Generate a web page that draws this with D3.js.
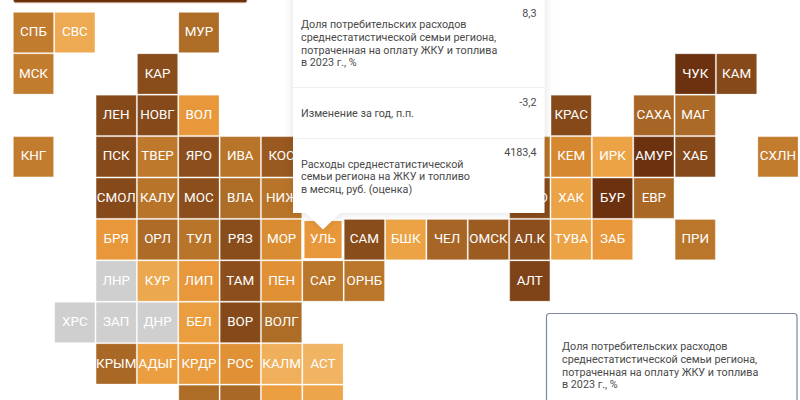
<!DOCTYPE html>
<html><head><meta charset="utf-8">
<script src="https://cdn.jsdelivr.net/npm/d3@7"></script>
<style>html,body{margin:0;padding:0;background:#fff;overflow:hidden}svg{display:block}text{font-family:Roboto,sans-serif}</style>
</head><body>
<svg id="c" width="800" height="400"></svg>
<script>
const regions=["СПБ","СВС","МУР","МСК","КАР","ЛЕН","НОВГ","ВОЛ","КРАС","САХА","МАГ","ЧУК","КАМ","КНГ","ПСК","ТВЕР","ЯРО","ИВА","КОС","","КЕМ","ИРК","АМУР","ХАБ","СХЛН","СМОЛ","КАЛУ","МОС","ВЛА","НИЖ","НОВО","ХАК","БУР","ЕВР","БРЯ","ОРЛ","ТУЛ","РЯЗ","МОР","УЛЬ","САМ","БШК","ЧЕЛ","ОМСК","АЛ.К","ТУВА","ЗАБ","ПРИ","ЛНР","КУР","ЛИП","ТАМ","ПЕН","САР","ОРНБ","АЛТ","ХРС","ЗАП","ДНР","БЕЛ","ВОР","ВОЛГ","КРЫМ","АДЫГ","КРДР","РОС","КАЛМ","АСТ","КЧР","СТАВ","ЧЕЧ","ДАГ"];
const cols=[0,1,4,0,3,2,3,4,13,15,16,16,17,0,2,3,4,5,6,12,13,14,15,16,18,2,3,4,5,6,12,13,14,15,2,3,4,5,6,7,8,9,10,11,12,13,14,16,2,3,4,5,6,7,8,12,1,2,3,4,5,6,2,3,4,5,6,7,4,5,6,7];
const rows=[0,0,0,1,1,2,2,2,2,2,2,1,1,3,3,3,3,3,3,3,3,3,3,3,3,4,4,4,4,4,4,4,4,4,5,5,5,5,5,5,5,5,5,5,5,5,5,5,6,6,6,6,6,6,6,6,7,7,7,7,7,7,8,8,8,8,8,8,9,9,9,9];
const shares=[10,7.4,11,10,13.5,14,14,8.3,14,11.4,11.2,16,14,10,13.8,10.2,13.2,10.5,12.4,10.5,9.2,7.7,16,14,10,14,10.5,13.2,11,10.5,13.5,7.7,16,11.3,8.3,11.1,10.5,13.5,9,8.3,13.5,7.7,11.4,12.2,13.2,7.7,8.3,10.4,null,7.5,8.3,13.2,8.7,10.4,10.4,14.5,null,null,null,8,14,11,11.3,8,8.2,8.7,7.2,7,11,11.3,8,7.6];
const colorStops=[7,7.7,8.3,9.2,10,10.5,11,11.4,12.2,13.2,14,16];
const colorValues=["#f0b463","#eba346","#e8983a","#d68830","#c27c2e","#b87429","#ae6d27","#a86626","#9c5c21","#8c4e1c","#85491a","#6c3210"];
const noData="#cfcfcf";
const tipRows=["Доля потребительских расходов|среднестатистической семьи региона,|потраченная на оплату ЖКУ и топлива|в 2023 г., %","Изменение за год, п.п.","Расходы среднестатистической|семьи региона на ЖКУ и топливо|в месяц, руб. (оценка)"];
const tipValues=["8,3","-3,2","4183,4"];
const activeRegion="УЛЬ";

const svg=d3.select("#c");
const x=d3.scaleBand().domain(d3.range(19)).range([12.8,12.8+19*41.36]).paddingInner(0.03).paddingOuter(0.015);
const y=d3.scaleBand().domain(d3.range(10)).range([11.8,11.8+10*41.42]).paddingInner(0.03).paddingOuter(0.015);
const color=d3.scaleLinear().domain(colorStops).range(colorValues).clamp(true);
const tiles=regions.map((name,i)=>({name,col:cols[i],row:rows[i],v:shares[i]}));

const defs=svg.append("defs");
const f=defs.append("filter").attr("id","sh").attr("x","-10%").attr("y","-10%").attr("width","120%").attr("height","120%");
f.append("feDropShadow").attr("dx",0).attr("dy",0).attr("stdDeviation",5).attr("flood-color","#000").attr("flood-opacity",.13);

svg.append("rect").attr("x",13.5).attr("y",-20).attr("width",233.5).attr("height",22.8).attr("rx",2)
  .attr("fill",color(16)).attr("stroke","#d9c3ad").attr("stroke-width",.8);

const g=svg.selectAll("g.t").data(tiles).join("g").attr("class","t")
  .attr("transform",d=>`translate(${x(d.col)},${y(d.row)})`);
g.append("rect").attr("width",x.bandwidth()).attr("height",y.bandwidth())
  .attr("fill",d=>d.v==null?noData:color(d.v))
  .attr("stroke",d=>d.name===activeRegion?"#fff":"rgba(255,255,255,.22)")
  .attr("stroke-width",d=>d.name===activeRegion?3:1);
g.filter(d=>d.name).append("text").attr("x",x.bandwidth()/2).attr("y",y.bandwidth()/2+3.7).attr("text-anchor","middle")
  .attr("fill","#fff").attr("font-size",13.4).text(d=>d.name);

// tooltip
const tip=svg.append("g");
const tx=293,tr=544.5,tb=213;
const ax=x(cols[regions.indexOf(activeRegion)])+x.bandwidth()/2;
tip.append("path").attr("d",`M${tx},-20H${tr}V${tb}H${ax+17}L${ax},${tb+16.5}L${ax-17},${tb}H${tx}Z`)
  .attr("fill","#fff").attr("filter","url(#sh)");
const labelY=[28,117,167.5], valueY=[16.7,105.7,156];
[87.5,138.5].forEach(v=>tip.append("line").attr("x1",tx).attr("x2",tr).attr("y1",v).attr("y2",v).attr("stroke","#efefef"));
tipRows.forEach((t,i)=>{
  t.split("|").forEach((line,k)=>tip.append("text").attr("x",301).attr("y",labelY[i]+k*12.75)
    .attr("font-size",10.75).attr("fill","#4a4a4a").text(line));
  tip.append("text").attr("x",536.5).attr("y",valueY[i]).attr("text-anchor","end")
    .attr("font-size",10.75).attr("fill","#4a4a4a").text(tipValues[i]);
});

// legend box
svg.append("rect").attr("x",546.5).attr("y",313.5).attr("width",250.5).attr("height",120).attr("rx",3)
  .attr("fill","#fff").attr("stroke","#7f88a8").attr("stroke-width",1.2);
tipRows[0].split("|").forEach((line,k)=>svg.append("text").attr("x",562).attr("y",350+k*12.75)
  .attr("font-size",10.75).attr("fill","#4a4a4a").text(line));
</script>
</body></html>
